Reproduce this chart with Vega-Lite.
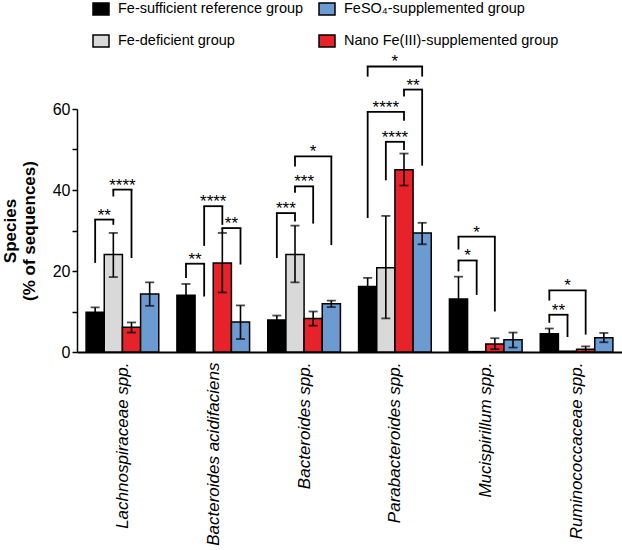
{
  "$schema": "https://vega.github.io/schema/vega-lite/v6.json",
  "width": 545,
  "height": 243,
  "autosize": {"type": "none"},
  "padding": {"left": 77, "top": 109, "right": 0, "bottom": 198},
  "config": {
    "font": "Liberation Sans",
    "view": {"stroke": null},
    "axis": {"domainColor": "black", "tickColor": "black", "labelColor": "black", "titleColor": "black", "grid": false}
  },
  "datasets": {
    "bars": [
      {"species": "Lachnospiraceae spp.", "g": "ref", "value": 9.8, "lo": 8.6, "hi": 11.0},
      {"species": "Lachnospiraceae spp.", "g": "def", "value": 24.1, "lo": 18.5, "hi": 29.4},
      {"species": "Lachnospiraceae spp.", "g": "nano", "value": 6.1, "lo": 4.8, "hi": 7.3},
      {"species": "Lachnospiraceae spp.", "g": "feso4", "value": 14.3, "lo": 11.4, "hi": 17.2},
      {"species": "Bacteroides acidifaciens", "g": "ref", "value": 14.0, "lo": 11.2, "hi": 16.8},
      {"species": "Bacteroides acidifaciens", "g": "nano", "value": 22.0, "lo": 14.7, "hi": 29.4},
      {"species": "Bacteroides acidifaciens", "g": "feso4", "value": 7.4, "lo": 3.2, "hi": 11.5},
      {"species": "Bacteroides spp.", "g": "ref", "value": 7.9, "lo": 6.9, "hi": 9.0},
      {"species": "Bacteroides spp.", "g": "def", "value": 24.1, "lo": 17.2, "hi": 31.2},
      {"species": "Bacteroides spp.", "g": "nano", "value": 8.3, "lo": 6.5, "hi": 10.0},
      {"species": "Bacteroides spp.", "g": "feso4", "value": 11.9, "lo": 11.1, "hi": 12.7},
      {"species": "Parabacteroides spp.", "g": "ref", "value": 16.2, "lo": 14.1, "hi": 18.3},
      {"species": "Parabacteroides spp.", "g": "def", "value": 20.8, "lo": 8.3, "hi": 33.6},
      {"species": "Parabacteroides spp.", "g": "nano", "value": 45.0, "lo": 41.1, "hi": 49.0},
      {"species": "Parabacteroides spp.", "g": "feso4", "value": 29.4, "lo": 26.6, "hi": 31.9},
      {"species": "Mucispirillum spp.", "g": "ref", "value": 13.1, "lo": 7.6, "hi": 18.6},
      {"species": "Mucispirillum spp.", "g": "def", "value": 0.1},
      {"species": "Mucispirillum spp.", "g": "nano", "value": 2.0, "lo": 0.7, "hi": 3.4},
      {"species": "Mucispirillum spp.", "g": "feso4", "value": 3.0, "lo": 1.1, "hi": 4.8},
      {"species": "Ruminococcaceae spp.", "g": "ref", "value": 4.5, "lo": 3.2, "hi": 5.8},
      {"species": "Ruminococcaceae spp.", "g": "def", "value": 0.2},
      {"species": "Ruminococcaceae spp.", "g": "nano", "value": 0.7, "lo": 0.1, "hi": 1.4},
      {"species": "Ruminococcaceae spp.", "g": "feso4", "value": 3.5, "lo": 2.4, "hi": 4.7}
    ],
    "brackets": [
      {"species": "Lachnospiraceae spp.", "a": "ref", "b": "def", "top": 32.7, "la": 22.0, "lb": 31.4, "label": "**"},
      {"species": "Lachnospiraceae spp.", "a": "def", "b": "nano", "top": 40.1, "la": 38.4, "lb": 23.2, "label": "****"},
      {"species": "Bacteroides acidifaciens", "a": "ref", "b": "def", "top": 21.8, "la": 18.3, "lb": 13.7, "label": "**"},
      {"species": "Bacteroides acidifaciens", "a": "def", "b": "nano", "top": 36.0, "la": 26.2, "lb": 31.4, "label": "****"},
      {"species": "Bacteroides acidifaciens", "a": "nano", "b": "feso4", "top": 30.6, "la": 29.4, "lb": 21.6, "label": "**"},
      {"species": "Bacteroides spp.", "a": "ref", "b": "def", "top": 34.3, "la": 23.2, "lb": 32.2, "label": "***"},
      {"species": "Bacteroides spp.", "a": "def", "b": "nano", "top": 40.9, "la": 39.3, "lb": 31.7, "label": "***"},
      {"species": "Bacteroides spp.", "a": "def", "b": "feso4", "top": 48.3, "la": 45.8, "lb": 26.4, "label": "*"},
      {"species": "Parabacteroides spp.", "a": "ref", "b": "feso4", "top": 70.5, "la": 68.0, "lb": 68.0, "label": "*"},
      {"species": "Parabacteroides spp.", "a": "nano", "b": "feso4", "top": 64.8, "la": 63.1, "lb": 46.0, "label": "**"},
      {"species": "Parabacteroides spp.", "a": "ref", "b": "nano", "top": 59.3, "la": 33.1, "lb": 57.1, "label": "****"},
      {"species": "Parabacteroides spp.", "a": "def", "b": "nano", "top": 51.9, "la": 42.4, "lb": 49.9, "label": "****"},
      {"species": "Mucispirillum spp.", "a": "ref", "b": "nano", "top": 28.5, "la": 25.3, "lb": 10.0, "label": "*"},
      {"species": "Mucispirillum spp.", "a": "ref", "b": "def", "top": 22.6, "la": 19.9, "lb": 14.1, "label": "*"},
      {"species": "Ruminococcaceae spp.", "a": "ref", "b": "nano", "top": 15.2, "la": 12.7, "lb": 4.3, "label": "*"},
      {"species": "Ruminococcaceae spp.", "a": "ref", "b": "def", "top": 9.2, "la": 7.2, "lb": 3.7, "label": "**"}
    ]
  },
  "layer": [
    {
      "data": {"name": "bars"},
      "transform": [
        {"calculate": "indexof(['Lachnospiraceae spp.','Bacteroides acidifaciens','Bacteroides spp.','Parabacteroides spp.','Mucispirillum spp.','Ruminococcaceae spp.'], datum.species) + 0.1 + 0.2 * indexof(['ref','def','nano','feso4'], datum.g)", "as": "x"},
        {"calculate": "datum.x + 0.2", "as": "x2"},
        {"calculate": "datum.x + 0.1", "as": "xc"}
      ],
      "layer": [
        {
          "mark": {"type": "rect", "stroke": "black", "strokeWidth": 1.5},
          "encoding": {
            "x": {
              "field": "x", "type": "quantitative",
              "scale": {"domain": [0, 6], "nice": false, "zero": false},
              "axis": {
                "title": null, "values": [0.5, 1.5, 2.5, 3.5, 4.5, 5.5],
                "labelExpr": "['Lachnospiraceae spp.','Bacteroides acidifaciens','Bacteroides spp.','Parabacteroides spp.','Mucispirillum spp.','Ruminococcaceae spp.'][floor(datum.value)]",
                "ticks": false, "labelAngle": -90, "labelAlign": "right", "labelBaseline": "middle",
                "labelFontStyle": "italic", "labelFontSize": 17, "labelPadding": 10, "labelLimit": 300,
                "domainWidth": 2, "labelOverlap": false
              }
            },
            "x2": {"field": "x2"},
            "y": {
              "field": "value", "type": "quantitative",
              "scale": {"domain": [0, 60], "nice": false},
              "axis": {
                "title": ["Species", "(% of sequences)"], "titleFontSize": 17, "titleFontWeight": "bold",
                "titleLineHeight": 19, "titlePadding": 14,
                "values": [0, 10, 20, 30, 40, 50, 60],
                "labelExpr": "datum.value % 20 == 0 ? datum.label : ''",
                "labelFontSize": 16, "tickSize": 5, "labelPadding": 2, "domainWidth": 1.5, "tickWidth": 1.5
              }
            },
            "y2": {"datum": 0},
            "fill": {
              "field": "g", "type": "nominal",
              "scale": {"domain": ["ref", "def", "feso4", "nano"], "range": ["#000000", "#d9d9d9", "#6b9bd1", "#e8222a"]},
              "legend": {
                "title": null, "orient": "none", "legendX": 15, "legendY": -109, "columns": 2, "gridAlign": "none",
                "symbolType": "M-1,-0.75H1V0.75H-1Z", "symbolSize": 256, "symbolStrokeColor": "black", "symbolStrokeWidth": 1.5,
                "labelFontSize": 14.5, "labelOffset": 8, "columnPadding": 12, "rowPadding": 14, "labelLimit": 300, "padding": 0,
                "labelColor": "black",
                "labelExpr": "datum.value == 'ref' ? 'Fe-sufficient reference group' : datum.value == 'feso4' ? 'FeSO₄-supplemented group' : datum.value == 'def' ? 'Fe-deficient group' : 'Nano Fe(III)-supplemented group'"
              }
            }
          }
        },
        {
          "mark": {"type": "rule", "color": "black", "strokeWidth": 1.6},
          "encoding": {
            "x": {"field": "xc", "type": "quantitative"},
            "y": {"field": "lo", "type": "quantitative"},
            "y2": {"field": "hi"}
          }
        },
        {
          "mark": {"type": "tick", "color": "black", "orient": "horizontal", "size": 9, "thickness": 1.8},
          "encoding": {
            "x": {"field": "xc", "type": "quantitative"},
            "y": {"field": "lo", "type": "quantitative"}
          }
        },
        {
          "mark": {"type": "tick", "color": "black", "orient": "horizontal", "size": 9, "thickness": 1.8},
          "encoding": {
            "x": {"field": "xc", "type": "quantitative"},
            "y": {"field": "hi", "type": "quantitative"}
          }
        }
      ]
    },
    {
      "data": {"name": "brackets"},
      "transform": [
        {"calculate": "indexof(['Lachnospiraceae spp.','Bacteroides acidifaciens','Bacteroides spp.','Parabacteroides spp.','Mucispirillum spp.','Ruminococcaceae spp.'], datum.species)", "as": "si"},
        {"calculate": "datum.si + 0.2 + 0.2 * indexof(['ref','def','nano','feso4'], datum.a)", "as": "xa"},
        {"calculate": "datum.si + 0.2 + 0.2 * indexof(['ref','def','nano','feso4'], datum.b)", "as": "xb"},
        {"calculate": "(datum.xa + datum.xb) / 2", "as": "xm"}
      ],
      "layer": [
        {
          "mark": {"type": "rule", "color": "black", "strokeWidth": 1.8, "strokeCap": "square"},
          "encoding": {
            "x": {"field": "xa", "type": "quantitative"},
            "x2": {"field": "xb"},
            "y": {"field": "top", "type": "quantitative"}
          }
        },
        {
          "mark": {"type": "rule", "color": "black", "strokeWidth": 1.8},
          "encoding": {
            "x": {"field": "xa", "type": "quantitative"},
            "y": {"field": "la", "type": "quantitative"},
            "y2": {"field": "top"}
          }
        },
        {
          "mark": {"type": "rule", "color": "black", "strokeWidth": 1.8},
          "encoding": {
            "x": {"field": "xb", "type": "quantitative"},
            "y": {"field": "lb", "type": "quantitative"},
            "y2": {"field": "top"}
          }
        },
        {
          "mark": {"type": "text", "color": "black", "fontSize": 17, "baseline": "alphabetic", "align": "center", "dy": 1},
          "encoding": {
            "x": {"field": "xm", "type": "quantitative"},
            "y": {"field": "top", "type": "quantitative"},
            "text": {"field": "label"}
          }
        }
      ]
    }
  ]
}
